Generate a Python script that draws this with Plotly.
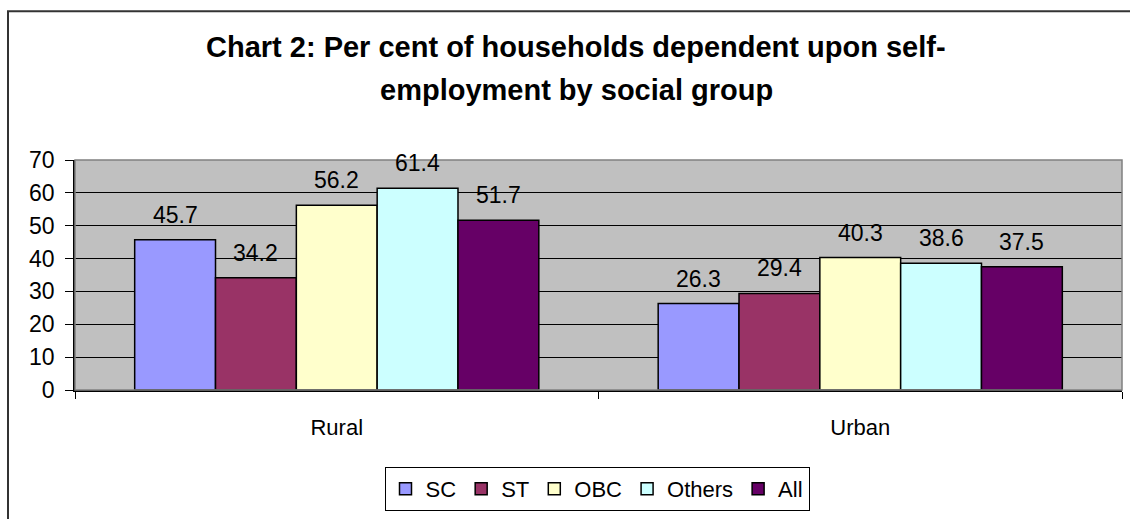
import plotly.graph_objects as go

categories = ["Rural", "Urban"]
series_names = ["SC", "ST", "OBC", "Others", "All"]
sc_values = [45.7, 26.3]
st_values = [34.2, 29.4]
obc_values = [56.2, 40.3]
others_values = [61.4, 38.6]
all_values = [51.7, 37.5]
series_values = [sc_values, st_values, obc_values, others_values, all_values]
series_colors = ["#9999FF", "#993366", "#FFFFCC", "#CCFFFF", "#660066"]
y_ticks = [0, 10, 20, 30, 40, 50, 60, 70]
title_lines = ["Chart 2: Per cent of households dependent upon self-",
               "employment by social group"]

FONT = "Arial, 'Liberation Sans', sans-serif"

W, H = 1130, 519
ML, MR, MT, MB = 75, 8, 160, 124
PW = W - ML - MR
PH = H - MT - MB


def px_x(px):
    return (px - ML) / PW


def px_y(py):
    return (H - MB - py) / PH


fig = go.Figure()
for name, vals, col in zip(series_names, series_values, series_colors):
    fig.add_trace(go.Bar(
        name=name, x=categories, y=vals,
        marker=dict(color=col, line=dict(color="black", width=1.5)),
        offsetgroup=name,
    ))

# data labels
annotations = []
n = len(series_names)
group_frac = 1 - 0.228
for i, (name, vals) in enumerate(zip(series_names, series_values)):
    for j, v in enumerate(vals):
        xpos = j - group_frac / 2 + group_frac / n * (i + 0.5)
        annotations.append(dict(
            x=xpos, y=v, xref="x", yref="y", text=f"{v}", showarrow=False,
            yanchor="middle", yshift=25,
            font=dict(family=FONT, size=23, color="black"),
        ))

title_y = [45, 88]
for line, ty in zip(title_lines, title_y):
    annotations.append(dict(
        x=px_x(576), y=px_y(ty), xref="paper", yref="paper", text=f"<b>{line}</b>",
        showarrow=False, xanchor="center", yanchor="middle",
        font=dict(family=FONT, size=29, color="black"),
    ))

shapes = [
    dict(type="rect", xref="paper", yref="paper", x0=0, x1=1, y0=0, y1=1,
         line=dict(color="#808080", width=1.5), layer="above"),
    dict(type="rect", xref="paper", yref="paper", x0=px_x(8), x1=px_x(1200),
         y0=px_y(560), y1=px_y(8), line=dict(color="#333333", width=2)),
]

fig.update_layout(
    width=W, height=H,
    margin=dict(l=ML, r=MR, t=MT, b=MB, pad=0),
    paper_bgcolor="white", plot_bgcolor="#C0C0C0",
    barmode="group", bargap=0.228, bargroupgap=0,
    font=dict(family=FONT, size=22, color="black"),
    showlegend=True,
    legend=dict(orientation="h", x=px_x(597), y=px_y(496), xanchor="center",
                yanchor="middle", bordercolor="black", borderwidth=1,
                font=dict(family=FONT, size=22), itemwidth=30,
                bgcolor="white", traceorder="normal"),
    annotations=annotations,
    shapes=shapes,
)
fig.update_xaxes(
    type="category", showline=True, linecolor="black", linewidth=1.5,
    ticks="outside", tickson="boundaries", ticklen=7, tickcolor="black",
    showgrid=False, ticklabelstandoff=17,
    tickfont=dict(family=FONT, size=22),
)
fig.update_yaxes(
    range=[0, 70], tickvals=y_ticks, showline=True, linecolor="black", linewidth=1.5,
    ticks="outside", ticklen=8, tickcolor="black", showgrid=True, gridcolor="black",
    gridwidth=1, zeroline=False, ticklabelstandoff=6,
    tickfont=dict(family=FONT, size=23),
)

fig.write_html("out.html", config={"displayModeBar": False},
               post_script="document.body.style.margin='0';document.body.style.overflow='hidden';")
